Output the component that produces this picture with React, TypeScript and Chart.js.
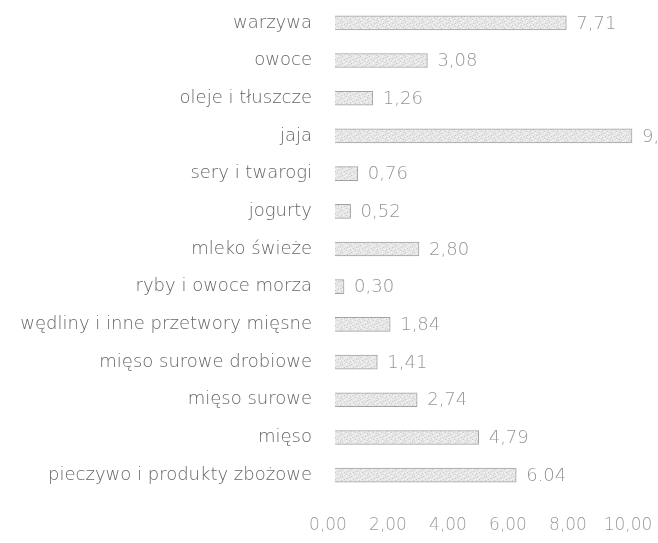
import React, { useEffect, useRef } from "react";
import { Chart, registerables } from "chart.js";

Chart.register(...registerables);

const categories = [
  "warzywa",
  "owoce",
  "oleje i tłuszcze",
  "jaja",
  "sery i twarogi",
  "jogurty",
  "mleko świeże",
  "ryby i owoce morza",
  "wędliny i inne przetwory mięsne",
  "mięso surowe drobiowe",
  "mięso surowe",
  "mięso",
  "pieczywo i produkty zbożowe",
];

const values = [7.71, 3.08, 1.26, 9.9, 0.76, 0.52, 2.8, 0.3, 1.84, 1.41, 2.74, 4.79, 6.04];

const valueLabels = ["7,71", "3,08", "1,26", "9,90", "0,76", "0,52", "2,80", "0,30", "1,84", "1,41", "2,74", "4,79", "6.04"];

const tickValues = [0, 2, 4, 6, 8, 10];
const tickLabels = ["0,00", "2,00", "4,00", "6,00", "8,00", "10,00"];

const FONT = "'DejaVu Sans', sans-serif";

// fixed stipple texture for the bars (d = dark speck, w = light speck)
const STIPPLE = [
  "d...w..w.",
  "..w....d.",
  ".....d...",
  "w.d....w.",
  "......w.d",
  ".w..d....",
  "....w..d.",
];

function makePattern(): CanvasPattern | string {
  const c = document.createElement("canvas");
  c.width = STIPPLE[0].length;
  c.height = STIPPLE.length;
  const g = c.getContext("2d");
  if (!g) return "#e4e4e4";
  g.fillStyle = "#e6e6e6";
  g.fillRect(0, 0, c.width, c.height);
  STIPPLE.forEach((row, y) => {
    for (let x = 0; x < row.length; x++) {
      if (row[x] === "d") {
        g.fillStyle = "#c9c9c9";
        g.fillRect(x, y, 1, 1);
      } else if (row[x] === "w") {
        g.fillStyle = "#f6f6f6";
        g.fillRect(x, y, 1, 1);
      }
    }
  });
  const p = g.createPattern(c, "repeat");
  return p || "#e4e4e4";
}

const valueLabelPlugin = {
  id: "valueLabels",
  afterDatasetsDraw(chart: any) {
    const ctx = chart.ctx;
    const meta = chart.getDatasetMeta(0);
    ctx.save();
    ctx.font = "300 18px " + FONT;
    ctx.fillStyle = "#959595";
    ctx.textAlign = "left";
    ctx.textBaseline = "middle";
    meta.data.forEach((bar: any, i: number) => {
      ctx.fillText(valueLabels[i], bar.x + 10, bar.y + 1);
    });
    ctx.restore();
  },
};

export default function App() {
  const ref = useRef<HTMLCanvasElement | null>(null);

  useEffect(() => {
    if (!ref.current) return;
    const chart = new Chart(ref.current, {
      type: "bar",
      data: {
        labels: categories,
        datasets: [
          {
            data: values,
            backgroundColor: makePattern() as any,
            borderColor: "#a3a3a3",
            borderWidth: 1,
            barThickness: 14,
          },
        ],
      },
      options: {
        indexAxis: "y",
        animation: false,
        responsive: false,
        layout: { padding: { top: 4, right: 23, bottom: 0, left: 0 } },
        plugins: {
          legend: { display: false },
          tooltip: { enabled: false },
        },
        scales: {
          x: {
            min: 0,
            max: 10,
            grid: { display: false, drawTicks: false },
            border: { display: false },
            afterBuildTicks(scale: any) {
              scale.ticks = tickValues.map((v) => ({ value: v }));
            },
            afterFit(scale: any) {
              scale.height = 49;
              scale.paddingLeft = 0;
              scale.paddingRight = 0;
            },
            ticks: {
              padding: 21,
              labelOffset: -7,
              maxRotation: 0,
              autoSkip: false,
              color: "#9a9a9a",
              font: { family: FONT, size: 17, weight: "300" },
              callback: (_v: any, i: number) => tickLabels[i],
            },
          },
          y: {
            grid: { display: false, drawTicks: false },
            border: { display: false },
            afterFit(scale: any) {
              scale.width = 335;
              scale.paddingTop = 0;
              scale.paddingBottom = 0;
            },
            ticks: {
              padding: 23,
              autoSkip: false,
              color: "#666666",
              font: { family: FONT, size: 18, weight: "300" },
            },
          },
        },
      },
      plugins: [valueLabelPlugin],
    });
    return () => chart.destroy();
  }, []);

  return (
    <div style={{ position: "absolute", left: 0, top: 0, width: 658, height: 543, background: "#ffffff", overflow: "hidden" }}>
      <canvas ref={ref} width={658} height={543} style={{ display: "block" }} />
    </div>
  );
}
